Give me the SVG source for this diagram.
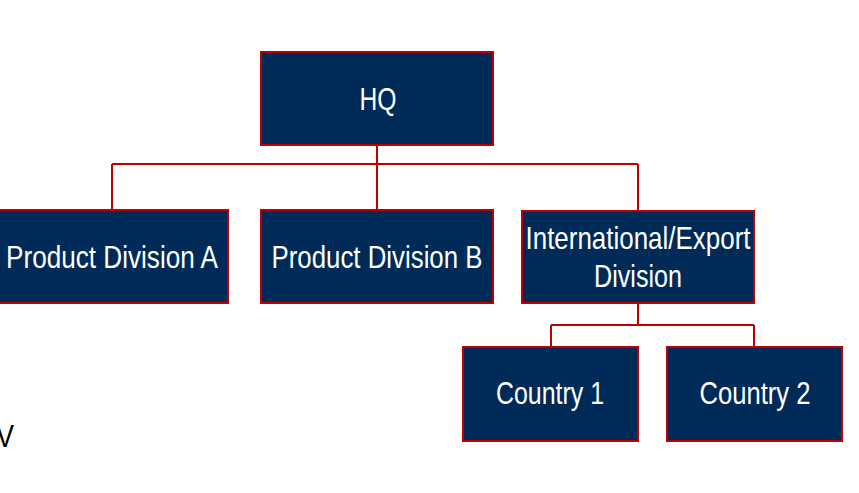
<svg xmlns="http://www.w3.org/2000/svg" width="859" height="493" viewBox="0 0 859 493">
<style>
.box{fill:#002B58;stroke:#C00000;stroke-width:2}
.lbl{font-family:"Liberation Sans",Arial,sans-serif;font-size:32px;fill:#FFFFFF;text-anchor:middle}
.con{fill:none;stroke:#C00000;stroke-width:2}
</style>
<rect width="859" height="493" fill="#FFFFFF"/>
<g id="connectors">
<path class="con" d="M377,145 V164 M112,164 H638 M112,164 V210 M377,164 V210 M638,164 V211"/>
<path class="con" d="M638,303 V325 M551,325 H754 M551,325 V347 M754,325 V347"/>
</g>
<g id="hq">
<rect class="box" x="261" y="52" width="232" height="93"/>
<text class="lbl" x="378" y="110" textLength="37" lengthAdjust="spacingAndGlyphs">HQ</text>
</g>
<g id="product-a">
<rect class="box" x="-4" y="210" width="232" height="93"/>
<text class="lbl" x="112" y="268" textLength="212" lengthAdjust="spacingAndGlyphs">Product Division A</text>
</g>
<g id="product-b">
<rect class="box" x="261" y="210" width="232" height="93"/>
<text class="lbl" x="377" y="268" textLength="211" lengthAdjust="spacingAndGlyphs">Product Division B</text>
</g>
<g id="international">
<rect class="box" x="522" y="211" width="232" height="92"/>
<text class="lbl" x="638" y="249" textLength="225" lengthAdjust="spacingAndGlyphs">International/Export</text>
<text class="lbl" x="638" y="287" textLength="88" lengthAdjust="spacingAndGlyphs">Division</text>
</g>
<g id="country-1">
<rect class="box" x="463" y="347" width="175" height="94"/>
<text class="lbl" x="550" y="404" textLength="108" lengthAdjust="spacingAndGlyphs">Country 1</text>
</g>
<g id="country-2">
<rect class="box" x="667" y="347" width="175" height="94"/>
<text class="lbl" x="755" y="404" textLength="111" lengthAdjust="spacingAndGlyphs">Country 2</text>
</g>
<text x="14" y="447" font-family="Liberation Sans,Arial,sans-serif" font-size="32" fill="#000000" text-anchor="end" textLength="18" lengthAdjust="spacingAndGlyphs">V</text>
</svg>
